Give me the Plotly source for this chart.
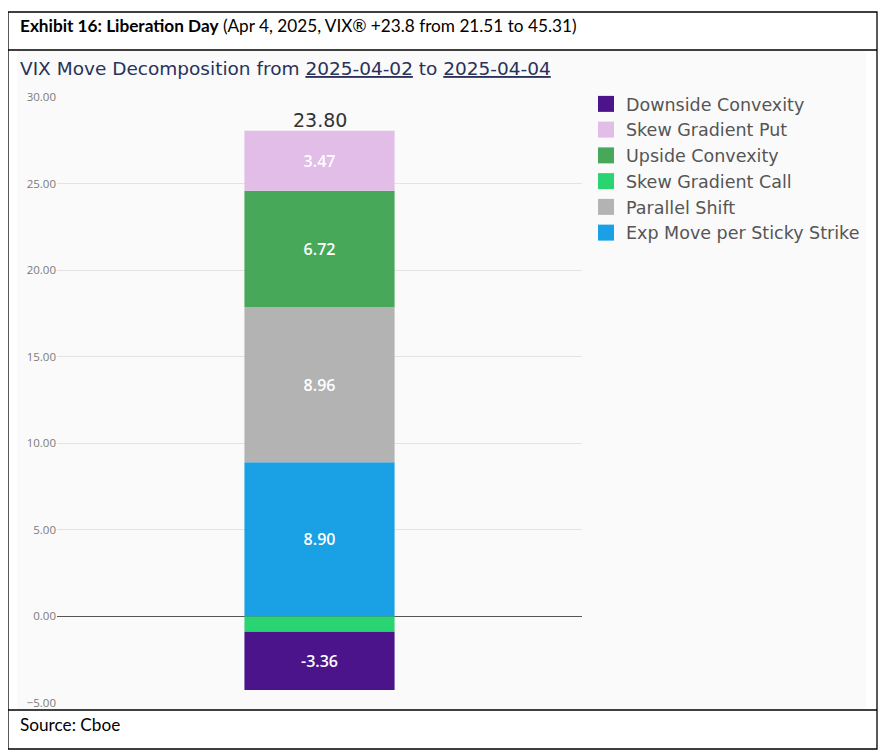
import plotly.graph_objects as go

categories = ["VIX Move"]
series_names = ["Exp Move per Sticky Strike", "Parallel Shift", "Skew Gradient Call",
                "Upside Convexity", "Skew Gradient Put", "Downside Convexity"]
series_values = [8.90, 8.96, -0.89, 6.72, 3.47, -3.36]
series_colors = ["#1aa0e4", "#b3b3b3", "#2ad571", "#47a85a", "#e1bde8", "#4b148a"]
tick_vals = [-5, 0, 5, 10, 15, 20, 25, 30]
total_change = 23.80

# page body has an 8px margin; work in reference pixel coords and shift
OFF = 8
W, H = 886 - OFF, 755 - OFF
L, T = 57 - OFF, 97 - OFF
R = W - (582 - OFF)
B = H - (703 - OFF)
PW, PH = W - L - R, H - T - B

def px(x):
    return (x - OFF - L) / PW

def py(y):
    return (H - B - (y - OFF)) / PH

CHART_FONT = "Open Sans"
WIDE_FONT = "DejaVu Sans"
DOC_FONT = "Lato"

fig = go.Figure()
for name, val, col in zip(series_names, series_values, series_colors):
    fig.add_trace(go.Bar(
        x=categories, y=[val], name=name, marker=dict(color=col, line=dict(width=0)),
        width=0.286, texttemplate="%{y:.2f}", textposition="inside",
        insidetextanchor="middle",
        textfont=dict(color="white", size=16, family=CHART_FONT, weight=600),
        hoverinfo="skip", showlegend=False, legendgroup=name,
    ))

# legend entries with larger square swatches (same names / colours)
for name, col in reversed(list(zip(series_names, series_colors))):
    fig.add_trace(go.Scatter(
        x=[None], y=[None], mode="markers", name=name, legendgroup=name,
        marker=dict(symbol="square", size=16, color=col, line=dict(width=0)),
        hoverinfo="skip", showlegend=True,
    ))

pos_top = sum(v for v in series_values if v > 0)

shapes = []
shapes.append(dict(type="rect", xref="paper", yref="paper", x0=px(17), x1=px(866),
                   y0=py(709), y1=py(51), fillcolor="#fafafa", line=dict(width=0), layer="below"))
bl = dict(color="black", width=1.3)
shapes.append(dict(type="rect", xref="paper", yref="paper", x0=px(8), x1=px(877),
                   y0=py(749), y1=py(12), line=bl, fillcolor="rgba(0,0,0,0)"))
for yy in (50, 710):
    shapes.append(dict(type="line", xref="paper", yref="paper", x0=px(8), x1=px(877),
                       y0=py(yy), y1=py(yy), line=bl))

annotations = [
    dict(text="<b>Exhibit 16: Liberation Day</b> (Apr 4, 2025, VIX® +23.8 from 21.51 to 45.31)",
         xref="paper", yref="paper", x=px(18), y=py(26), xanchor="left", yanchor="middle",
         showarrow=False, font=dict(family=DOC_FONT, size=17.2, color="black")),
    dict(text="Source: Cboe", xref="paper", yref="paper", x=px(18), y=py(724),
         xanchor="left", yanchor="middle", showarrow=False,
         font=dict(family=DOC_FONT, size=17.2, color="black")),
    dict(text="VIX Move Decomposition from <span style='text-decoration:underline'>2025-04-02</span> to <span style='text-decoration:underline'>2025-04-04</span>",
         xref="paper", yref="paper", x=px(18), y=py(68), xanchor="left", yanchor="middle",
         showarrow=False, font=dict(family=WIDE_FONT, size=18.5, color="#28325a")),
    dict(text=f"{total_change:.2f}", x=categories[0], y=pos_top, yanchor="bottom",
         showarrow=False, yshift=-2, font=dict(family=WIDE_FONT, size=19, color="#333333")),
]

fig.update_layout(
    width=W, height=H, barmode="relative",
    margin=dict(l=L, r=R, t=T, b=B, autoexpand=False),
    paper_bgcolor="white", plot_bgcolor="rgba(0,0,0,0)",
    showlegend=True,
    legend=dict(x=px(586), y=py(86), xanchor="left", yanchor="top",
                font=dict(family=WIDE_FONT, size=17.5, color="#555555"),
                bgcolor="rgba(0,0,0,0)", traceorder="normal", itemclick=False,
                itemdoubleclick=False),
    shapes=shapes, annotations=annotations,
    uniformtext=dict(minsize=14, mode="hide"),
    font=dict(family=CHART_FONT),
)
fig.update_xaxes(showticklabels=False, showgrid=False, zeroline=False, range=[-0.5, 0.5])
fig.update_yaxes(range=[-5, 30], tickvals=tick_vals, tickformat=".2f",
                 tickfont=dict(family=CHART_FONT, size=11.5, color="#7a7a7a"),
                 showgrid=True, gridcolor="#e3e3e3", gridwidth=1,
                 zeroline=True, zerolinecolor="#555555", zerolinewidth=1.3, ticks="")

fig.write_html("out.html")
